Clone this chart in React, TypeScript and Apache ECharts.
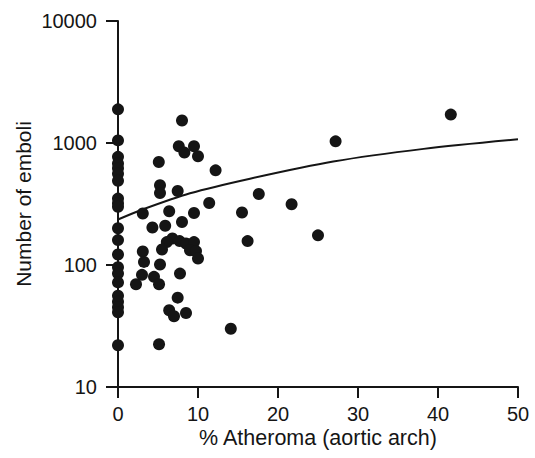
import React, { useEffect, useRef } from "react";
import * as echarts from "echarts";

// Points at 0 % atheroma
const zeroEmboli = [1888, 1050, 770, 680, 620, 560, 490, 350, 320, 300, 200, 160, 122, 96, 85, 72, 56, 50, 45, 41, 22];

// Points with non-zero atheroma
const atheromaX = [8.0, 41.6, 27.2, 7.6, 9.5, 8.3, 10.0, 5.1, 12.2, 5.25, 5.25, 7.46, 17.6, 11.4, 21.7, 3.1, 6.4, 9.5, 15.5, 8.0, 4.3, 5.9, 25.0, 16.2, 6.8, 6.1, 7.7, 8.5, 9.5, 5.5, 9.0, 9.75, 3.1, 10.0, 3.25, 5.25, 3.0, 4.5, 7.75, 2.25, 5.13, 7.46, 6.4, 7.0, 8.5, 14.1, 5.13];
const atheromaEmboli = [1530, 1709, 1032, 940, 940, 834, 778, 699, 597, 450, 389, 404, 382, 322, 315, 264, 276, 267, 269, 225, 203, 210, 175, 157, 165, 154, 157, 150, 154, 134, 132, 130, 129, 113, 106, 101, 83, 80, 85, 69.5, 69.5, 54, 42.6, 38, 40.4, 30, 22.4];

// Fitted curve
const fitX = [0, 2.75, 9, 16.5, 26.9, 38.2, 50];
const fitY = [236, 280, 387, 510, 705, 895, 1072];

const xTicks = [0, 10, 20, 30, 40, 50];

const FONT = "Liberation Sans, Arial, Helvetica, sans-serif";
const INK = "#151515";

export default function App() {
  const ref = useRef<HTMLDivElement>(null);
  useEffect(() => {
    document.body.style.margin = "0";
    if (!ref.current) return;
    const chart = echarts.init(ref.current, undefined, { renderer: "svg" });
    const points: number[][] = [];
    zeroEmboli.forEach((v) => points.push([0, v]));
    atheromaX.forEach((x, i) => points.push([x, atheromaEmboli[i]]));
    chart.setOption({
      animation: false,
      backgroundColor: "#ffffff",
      grid: { left: 118, top: 21, width: 400, height: 366, containLabel: false },
      xAxis: {
        type: "value",
        min: xTicks[0],
        max: xTicks[xTicks.length - 1],
        interval: 10,
        name: "% Atheroma (aortic arch)",
        nameLocation: "middle",
        nameGap: 40,
        nameMoveOverlap: false,
        nameTextStyle: { fontSize: 21.5, color: INK, fontFamily: FONT },
        axisLine: { show: true, onZero: false, lineStyle: { color: INK, width: 2 } },
        axisTick: { show: true, length: 11, lineStyle: { color: INK, width: 2 } },
        axisLabel: { fontSize: 20, color: INK, fontFamily: FONT, margin: 17 },
        splitLine: { show: false },
      },
      yAxis: {
        type: "log",
        logBase: 10,
        min: 10,
        max: 10000,
        name: "Number of emboli",
        nameLocation: "middle",
        nameGap: 84,
        nameMoveOverlap: false,
        nameTextStyle: { fontSize: 21, color: INK, fontFamily: FONT },
        axisLine: { show: true, onZero: false, lineStyle: { color: INK, width: 2 } },
        axisTick: { show: true, length: 12, lineStyle: { color: INK, width: 2 } },
        axisLabel: {
          fontSize: 20,
          color: INK,
          fontFamily: FONT,
          margin: 21,
          formatter: (v: number) => String(Math.round(v)),
        },
        splitLine: { show: false },
        minorTick: { show: false },
      },
      series: [
        {
          type: "line",
          data: fitX.map((x, i) => [x, fitY[i]]),
          smooth: 0.3,
          showSymbol: false,
          symbol: "none",
          lineStyle: { color: INK, width: 2 },
          z: 3,
        },
        {
          type: "scatter",
          data: points,
          symbol: "circle",
          symbolSize: 12,
          itemStyle: { color: INK, opacity: 1 },
          z: 4,
        },
      ],
    });
    return () => chart.dispose();
  }, []);
  return <div ref={ref} style={{ width: 535, height: 458 }} />;
}
